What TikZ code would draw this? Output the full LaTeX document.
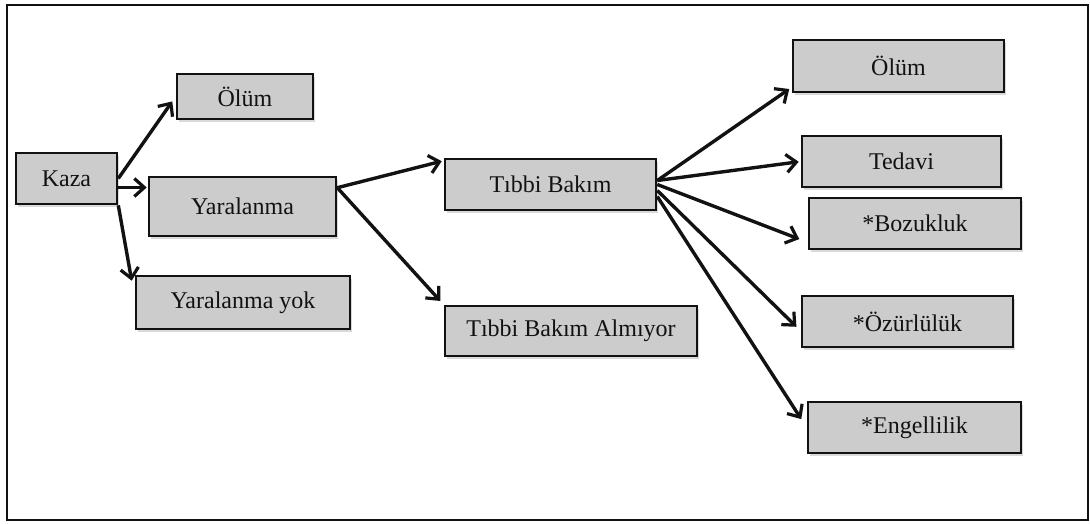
\documentclass[tikz,border=0pt]{standalone}
\usepackage{fontspec}
\setmainfont{Liberation Serif}
\usetikzlibrary{arrows.meta,shadows}
\definecolor{boxfill}{RGB}{204,204,204}
\definecolor{ink}{RGB}{18,18,18}
\tikzset{
  box/.style={draw=ink,line width=2.6pt,fill=boxfill,inner sep=0pt,
    font=\fontsize{24}{26}\selectfont,text=ink,
    drop shadow={shadow xshift=2pt,shadow yshift=-2.5pt,opacity=0.3,fill=gray}},
  link/.style={draw=ink,line width=3.4pt,
    -{Straight Barb[length=10pt,width=18pt,line width=3.2pt]}},
}
\begin{document}
\begin{tikzpicture}[x=1pt,y=-1pt]
  \useasboundingbox (0,0) rectangle (1090,523);
  % outer frame
  \draw[ink,line width=2.2pt] (7,5) rectangle (1088,520);

  % first level
  \node[box,minimum width=101pt,minimum height=51pt] (kaza) at (66.5,178.5) {Kaza};
  \node[box,minimum width=136pt,minimum height=45pt] (olum1) at (245,96.5) {Ölüm};
  \node[box,minimum width=187pt,minimum height=59pt] (yar) at (242.5,206.5) {Yaralanma};
  \node[box,minimum width=214pt,minimum height=53pt] (yok) at (243,302.5) {Yaralanma yok};

  % second level
  \node[box,minimum width=211pt,minimum height=51pt] (tb) at (550.5,184.5) {Tıbbi Bakım};
  \node[box,minimum width=252pt,minimum height=50pt] (alm) at (571,331) {Tıbbi Bakım Almıyor};

  % outcomes
  \node[box,minimum width=211pt,minimum height=52pt] (olum2) at (898.5,66) {Ölüm};
  \node[box,minimum width=199pt,minimum height=51pt] (ted) at (901.5,161.5) {Tedavi};
  \node[box,minimum width=212pt,minimum height=51pt] (boz) at (915,223.5) {*Bozukluk};
  \node[box,minimum width=211pt,minimum height=51pt] (ozr) at (907.5,321.5) {*Özürlülük};
  \node[box,minimum width=213pt,minimum height=51pt] (eng) at (914.5,427.5) {*Engellilik};

  % connectors from Kaza
  \draw[link,shorten >=6pt] (kaza.east) -- (olum1.west);
  \draw[link,shorten >=1pt] ([yshift=-9pt]kaza.east) -- ([yshift=-9pt]kaza.east -| yar.west);
  \draw[link] (kaza.south east) -- ([xshift=-3pt,yshift=-6pt]yok.north west);

  % connectors from Yaralanma
  \draw[link,shorten >=2pt] ([yshift=-12pt]yar.north east) -- ([yshift=-3pt]tb.north west);
  \draw[link,shorten >=5pt] ([yshift=-12pt]yar.north east) -- (alm.north west);

  % connectors from Tıbbi Bakım
  \draw[link,shorten >=3pt] ([yshift=4pt]tb.east) -- ([yshift=6pt]olum2.south west);
  \draw[link,shorten >=2pt] ([yshift=4pt]tb.east) -- (ted.west);
  \draw[link,shorten >=9pt] (tb.east) -- ([yshift=8pt]boz.south west);
  \draw[link,shorten >=6pt] ([yshift=-6pt]tb.east) -- ([yshift=-9.5pt]ozr.west);
  \draw[link,shorten >=10pt] ([yshift=-12pt]tb.east) -- (eng.west);
\end{tikzpicture}
\end{document}
